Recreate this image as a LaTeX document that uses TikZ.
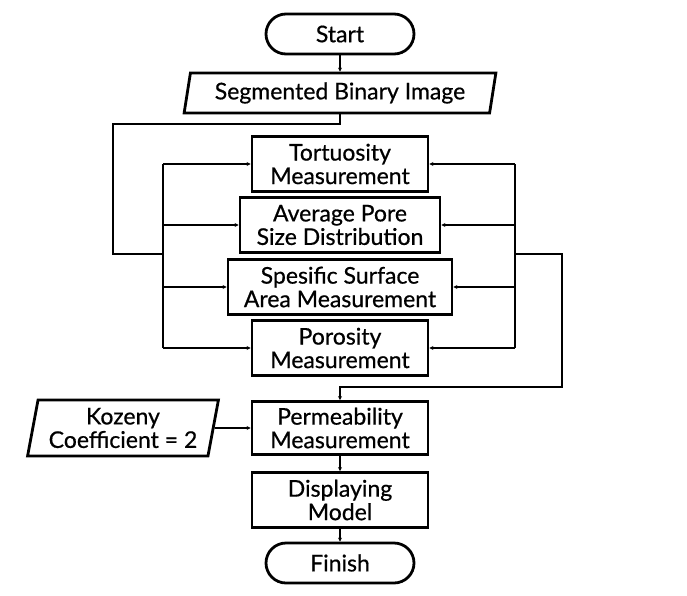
\documentclass[tikz,border=0pt]{standalone}
\usepackage{fontspec}
\setmainfont{Lato}[UprightFeatures={FakeBold=0.6}]
\usetikzlibrary{arrows.meta,shapes.geometric,positioning}

\begin{document}
\begin{tikzpicture}[x=1pt,y=-1pt,>={Stealth[length=4pt,width=4pt]},
                    node distance=61pt,line width=1.8pt]
  \tikzstyle{process}=[rectangle,draw=black,line width=2.8pt,fill=white,
                       minimum width=176pt,minimum height=55pt,align=center,
                       inner sep=2pt,font=\fontsize{23}{23.5}\selectfont]
  \tikzstyle{terminal}=[process,minimum width=148pt,minimum height=40pt,
                        rounded corners=20pt]
  \tikzstyle{io}=[process,trapezium,trapezium left angle=78,
                  trapezium right angle=102,trapezium stretches=true]

  \useasboundingbox (0,0) rectangle (687,595);

  \node[terminal] (Start) at (340,34)              {Start};
  \node[io,minimum width=312pt,minimum height=40pt] (Img)
        [below of=Start,node distance=59pt]        {Segmented Binary Image};
  \node[process] (Tort)  [below of=Img,node distance=71pt]  {Tortuosity\\Measurement};
  \node[process,minimum width=200pt] (Pore) [below of=Tort]  {Average Pore\\Size Distribution};
  \node[process,minimum width=224pt] (Surf) [below of=Pore,node distance=62pt]
        {Spesific Surface\\Area Measurement};
  \node[process] (Poro)  [below of=Surf]           {Porosity\\Measurement};
  \node[process,minimum height=53pt] (Perm)
        [below of=Poro,node distance=80pt]         {Permeability\\Measurement};
  \node[io,minimum width=191pt,minimum height=56pt] (Koz)
        [left of=Perm,node distance=217pt]         {Kozeny\\Coefficient = 2};
  \node[process] (Disp)  [below of=Perm,node distance=72pt] {Displaying\\Model};
  \node[terminal] (Finish) [below of=Disp,node distance=63pt] {Finish};

  % buses
  \coordinate (busL) at (163,254);
  \coordinate (busR) at (515,254);
  \coordinate (loopL) at (113,124);
  \coordinate (loopR) at (562,387);

  \draw[->] (Start) -- (Img);
  \draw (Img.south) |- (loopL) |- (busL);
  \draw (busL |- Tort) -- (busL |- Poro);
  \draw (busR |- Tort) -- (busR |- Poro);
  \foreach \n in {Tort,Pore,Surf,Poro}{
    \draw[->] (busL |- \n.west) -- (\n.west);
    \draw[->] (busR |- \n.east) -- (\n.east);
  }
  \draw[->] (busR) -| (loopR) -| (Perm.north);
  \draw[->] (Koz.east) -- (Perm.west);
  \draw[->] (Perm) -- (Disp);
  \draw[->] (Disp) -- (Finish);
\end{tikzpicture}
\end{document}
